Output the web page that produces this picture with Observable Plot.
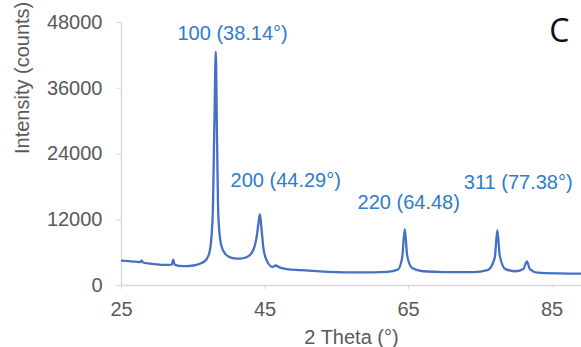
<!DOCTYPE html>
<html>
<head>
<meta charset="utf-8">
<script src="https://cdn.jsdelivr.net/npm/d3@7"></script>
<script src="https://cdn.jsdelivr.net/npm/@observablehq/plot@0.6"></script>
<style>
  html, body { margin: 0; padding: 0; background: #fff; }
  #chart { width: 581px; height: 347px; }
</style>
</head>
<body>
<div id="chart"></div>
<script>
const twoTheta = [
  25, 26, 27, 27.6, 27.8, 28.0, 29, 30, 31, 32.0, 32.2, 32.4, 33, 34, 35, 36, 36.8,
  37.3, 37.7, 37.95, 38.14, 38.3, 38.5, 38.9, 39.5, 40.5, 41.5, 42.5, 43.3, 43.8, 44.1,
  44.29, 44.5, 44.8, 45.3, 46, 46.5, 47, 48, 50, 54, 58, 62, 63.5, 64.1, 64.48, 64.8,
  65.5, 67, 70, 74, 76, 77.0, 77.38, 77.7, 78.5, 80, 81.0, 81.5, 81.9, 83, 86, 89.2
];
const intensity = [
  4550, 4450, 4350, 4250, 4600, 4200, 4000, 3850, 3750, 3800, 4700, 3850, 3600, 3550, 3650, 4000, 4700,
  6300, 12500, 30000, 42700, 28000, 12500, 7300, 5700, 5000, 4900, 5200, 6300, 8600, 11500,
  13000, 10500, 6600, 4400, 3400, 3650, 3300, 3000, 2800, 2500, 2400, 2500, 2900, 5000, 10300, 5500,
  3200, 2600, 2450, 2450, 2800, 5000, 10100, 5500, 3000, 2600, 3000, 4400, 3000, 2350, 2200, 2150
];

// peak annotations
const peakLabels = ["100 (38.14°)", "200 (44.29°)", "220 (64.48)", "311 (77.38°)"];
const labelX = [32.8, 40.2, 57.9, 72.7];
const labelY = [46000, 19150, 15150, 18800];

const xTicks = [25, 45, 65, 85];
const yTicks = [0, 12000, 24000, 36000, 48000];

const data = twoTheta.map((t, i) => ({t, v: intensity[i]}));
const labels = peakLabels.map((s, i) => ({s, x: labelX[i], y: labelY[i]}));

const font = "'Liberation Sans', Arial, sans-serif";

const chart = Plot.plot({
  width: 581,
  height: 347,
  marginLeft: 121,
  marginRight: 0,
  marginTop: 22,
  marginBottom: 62,
  style: {fontFamily: font, fontSize: "20px", color: "#595959", background: "#fff", overflow: "visible"},
  x: {domain: [25, 89.1], ticks: xTicks, label: null},
  y: {domain: [0, 48000], ticks: yTicks, label: null},
  marks: [
    Plot.ruleX([25], {stroke: "#d9d9d9", strokeWidth: 1.5}),
    Plot.ruleY([0], {stroke: "#d9d9d9", strokeWidth: 1.5}),
    Plot.axisX({ticks: xTicks, tickSize: 4, tickPadding: 12, stroke: "#d9d9d9", tickFormat: d => String(d), fill: "#595959", fontSize: 20}),
    Plot.axisY({ticks: yTicks, tickSize: 5, tickPadding: 14, stroke: "#d9d9d9", tickFormat: d => String(d), fill: "#595959", fontSize: 20}),
    Plot.line(data, {x: "t", y: "v", stroke: "#4470c8", strokeWidth: 2.3, curve: "monotone-x", clip: true}),
    Plot.text(labels, {x: "x", y: "y", text: "s", fill: "#2e7ccb", fontSize: 20, textAnchor: "start"}),
    Plot.text(["2 Theta (°)"], {frameAnchor: "bottom", dy: 58, fill: "#595959", fontSize: 20}),
    Plot.text(["Intensity (counts)"], {frameAnchor: "left", dx: -99, rotate: -90, fill: "#595959", fontSize: 20}),
    Plot.text(["C"], {frameAnchor: "top-right", dx: -12, dy: -3, fill: "#111", fontSize: 32, fontFamily: "'Open Sans', sans-serif"})
  ]
});
document.getElementById("chart").appendChild(chart);
</script>
</body>
</html>
